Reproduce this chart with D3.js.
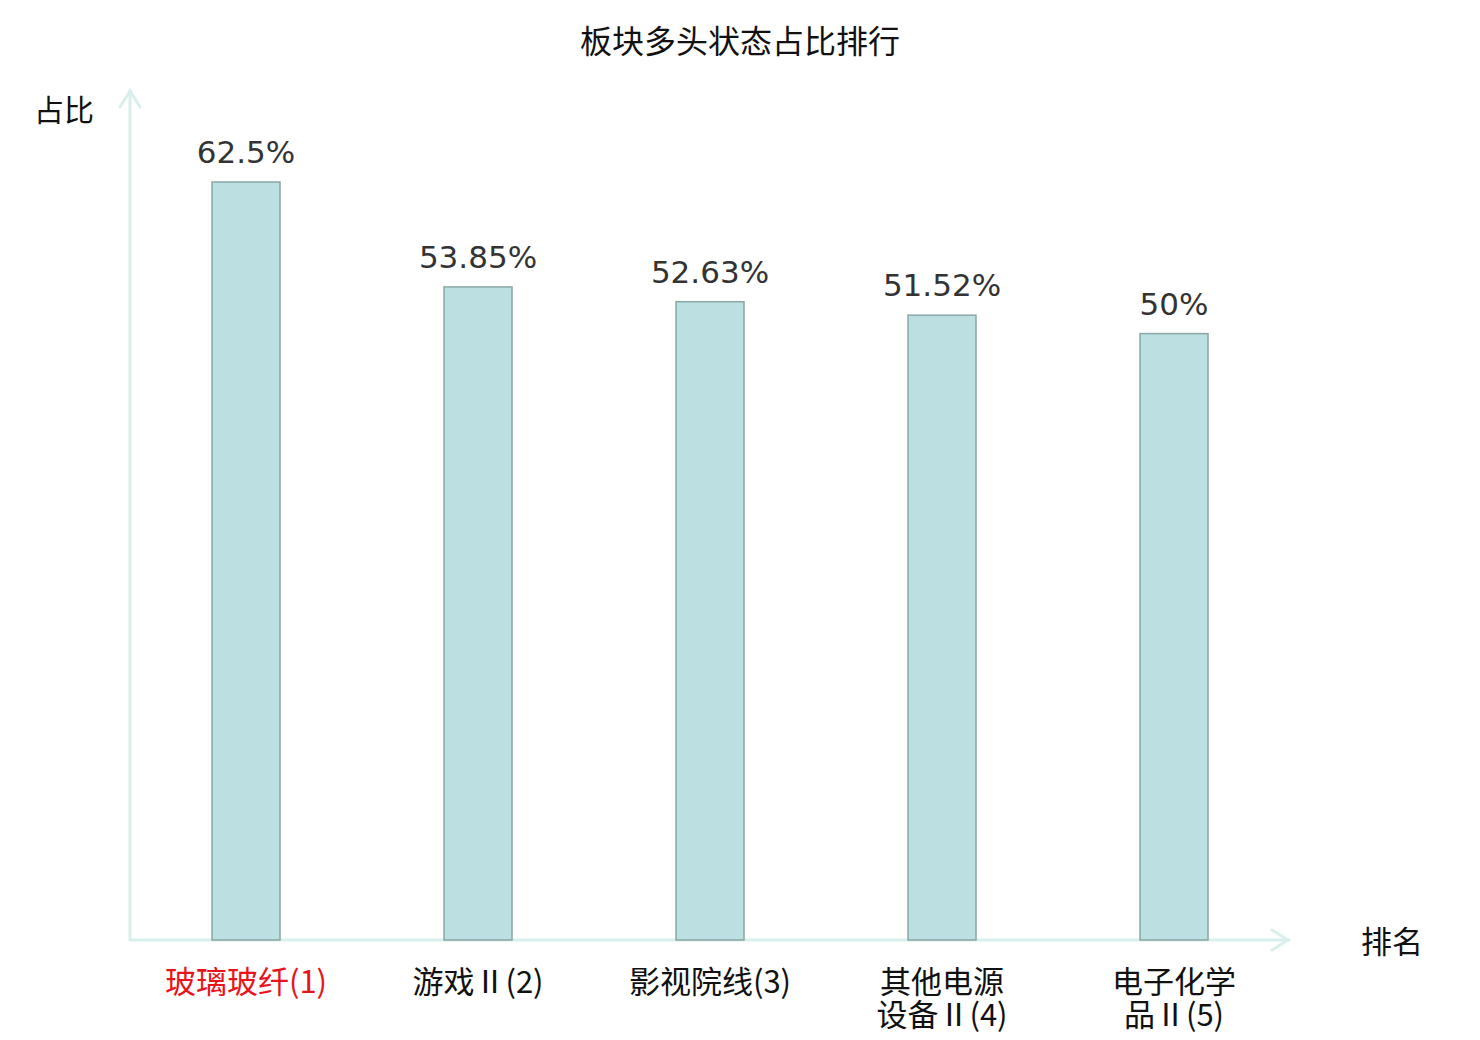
<!DOCTYPE html>
<html>
<head>
<meta charset="utf-8">
<script src="https://cdn.jsdelivr.net/npm/d3@7"></script>
<style>
    body { margin: 0; background: #fff; }
    text { font-family: "Noto Sans CJK SC", "DejaVu Sans", sans-serif; }
</style>
</head>
<body>
<svg id="chart" width="1480" height="1040"></svg>
<script>
// chart data
var categories = ['玻璃玻纤(1)', '游戏Ⅱ(2)', '影视院线(3)', '其他电源设备Ⅱ(4)', '电子化学品Ⅱ(5)'];
var labelLines = [['玻璃玻纤(1)'], ['游戏Ⅱ(2)'], ['影视院线(3)'], ['其他电源', '设备Ⅱ(4)'], ['电子化学', '品Ⅱ(5)']];
var values = [62.5, 53.85, 52.63, 51.52, 50];
var valueLabels = ['62.5%', '53.85%', '52.63%', '51.52%', '50%'];

var svg = d3.select('#chart');

var axisColor = '#d8efec',
    barFill = '#bce0e2',
    barStroke = '#8aa6a6';

var x = d3.scaleBand()
    .domain(categories)
    .range([130, 1290])
    .padding(0);

var y = d3.scaleLinear()
    .domain([0, 62.5])
    .range([940, 182]);

var barWidth = x.bandwidth() * 0.293;

// title
svg.append('text')
    .attr('x', 740)
    .attr('y', 53)
    .attr('text-anchor', 'middle')
    .style('font-size', '32px')
    .style('fill', '#111')
    .text('板块多头状态占比排行');

// axes drawn as arrows
var axes = svg.append('g')
    .attr('stroke', axisColor)
    .attr('stroke-width', 3)
    .attr('fill', 'none')
    .attr('stroke-linecap', 'round');

axes.append('line').attr('x1', 130).attr('y1', 940).attr('x2', 130).attr('y2', 90);
axes.append('path').attr('d', 'M120,107 L130,91 L140,107');
axes.append('line').attr('x1', 130).attr('y1', 940).attr('x2', 1289).attr('y2', 940);
axes.append('path').attr('d', 'M1272,930 L1288,940 L1272,950');

svg.append('text')
    .attr('x', 34)
    .attr('y', 121)
    .style('font-size', '30px')
    .style('fill', '#111')
    .text('占比');

svg.append('text')
    .attr('x', 1361)
    .attr('y', 953)
    .style('font-size', '31px')
    .style('fill', '#111')
    .text('排名');

// bars
svg.selectAll('rect.bar')
    .data(values)
    .enter()
    .append('rect')
    .attr('class', 'bar')
    .attr('x', function(d, i) { return x(categories[i]) + (x.bandwidth() - barWidth) / 2 })
    .attr('y', function(d) { return y(d) })
    .attr('width', barWidth)
    .attr('height', function(d) { return y(0) - y(d) })
    .attr('fill', barFill)
    .attr('stroke', barStroke)
    .attr('stroke-width', 1.5);

// value labels
svg.selectAll('text.value')
    .data(values)
    .enter()
    .append('text')
    .attr('class', 'value')
    .attr('x', function(d, i) { return x(categories[i]) + x.bandwidth() / 2 })
    .attr('y', function(d) { return y(d) - 19 })
    .attr('text-anchor', 'middle')
    .style('font-family', '"DejaVu Sans", sans-serif')
    .style('font-size', '31px')
    .style('fill', '#333')
    .text(function(d, i) { return valueLabels[i] });

// category labels
var cats = svg.selectAll('text.cat')
    .data(labelLines)
    .enter()
    .append('text')
    .attr('class', 'cat')
    .attr('text-anchor', 'middle')
    .style('font-size', '31px')
    .style('fill', function(d, i) { return i == 0 ? '#e8141c' : '#111' });

cats.each(function(lines, i) {
    var cx = x(categories[i]) + x.bandwidth() / 2;
    d3.select(this).selectAll('tspan')
        .data(lines)
        .enter()
        .append('tspan')
        .attr('x', cx)
        .attr('y', function(d, j) { return 993 + j * 33 })
        .text(function(d) { return d });
});
</script>
</body>
</html>
